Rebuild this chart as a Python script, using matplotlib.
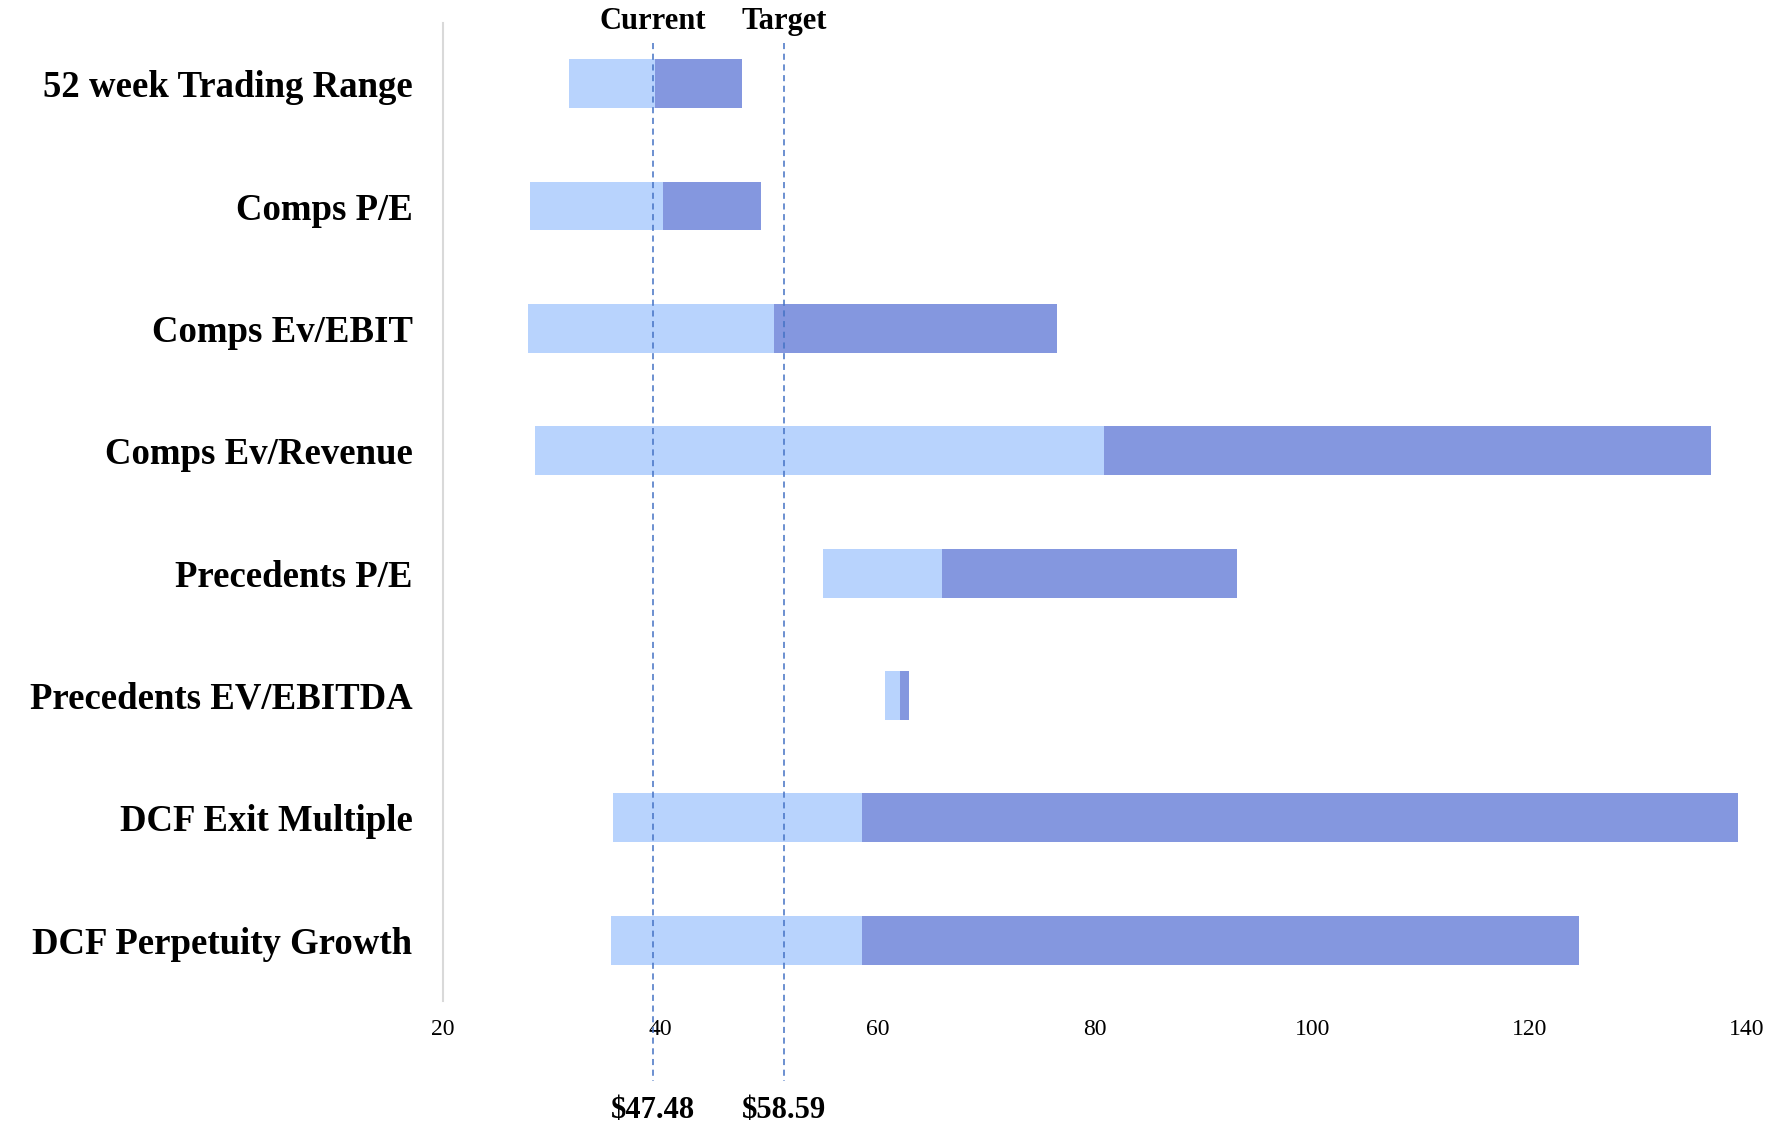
import matplotlib.pyplot as plt

methods = ['52 week Trading Range', 'Comps P/E', 'Comps Ev/EBIT', 'Comps Ev/Revenue',
           'Precedents P/E', 'Precedents EV/EBITDA', 'DCF Exit Multiple', 'DCF Perpetuity Growth']
low = [31.6, 28.0, 27.8, 28.5, 55.0, 60.7, 35.6, 35.5]
mid = [39.5, 40.2, 50.5, 80.8, 65.9, 62.1, 58.6, 58.6]
high = [47.5, 49.3, 76.5, 136.7, 93.1, 62.9, 139.2, 124.5]

ref_names = ['Current', 'Target']
ref_pos = [39.3, 51.4]
ref_prices = ['$47.48', '$58.59']

light = '#b8d3fd'
dark = '#8497df'

plt.rcParams['font.family'] = ['Liberation Serif', 'DejaVu Serif']

fig = plt.figure(figsize=(17.67, 11.25), dpi=100)
ax = fig.add_axes([0.2507, 0.110, 0.738, 0.870])

y = list(range(len(methods)))
ax.barh(y, [m - l for l, m in zip(low, mid)], left=low, height=0.4, color=light)
ax.barh(y, [h - m for m, h in zip(mid, high)], left=mid, height=0.4, color=dark)

ax.set_xlim(20, 140)
ax.set_ylim(len(methods) - 0.5, -0.5)
ax.set_xticks(range(20, 141, 20))
ax.set_yticks(y)
ax.set_yticklabels(methods, fontsize=26.5, fontweight='bold')
ax.tick_params(axis='y', length=0, pad=22)
ax.tick_params(axis='x', length=0, labelsize=17, pad=13)

for s in ['top', 'right', 'bottom']:
    ax.spines[s].set_visible(False)
ax.spines['left'].set_color('#d9d9d9')
ax.spines['left'].set_linewidth(1.5)

for name, pos, price in zip(ref_names, ref_pos, ref_prices):
    ax.plot([pos, pos], [-0.33, 8.15], ls=(0, (4, 3)), color='#4472c4', lw=1.1, clip_on=False)
    ax.text(pos, -0.51, name, ha='center', va='center', fontsize=22, fontweight='bold')
    ax.text(pos, 8.39, price, ha='center', va='center', fontsize=22, fontweight='bold')

fig.savefig('out.png', dpi=100)
